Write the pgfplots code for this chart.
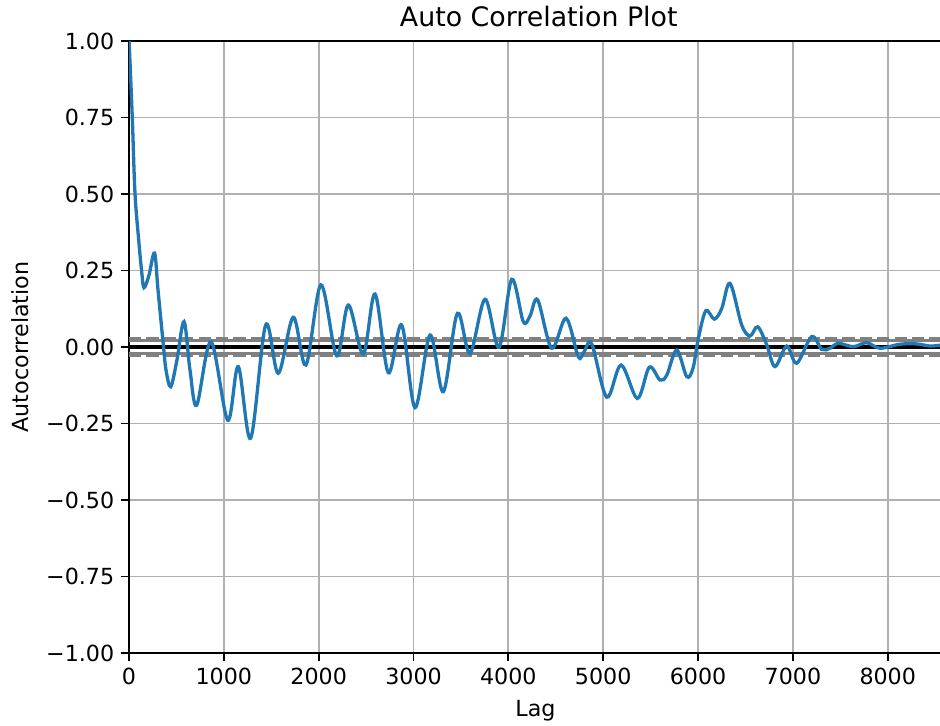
\documentclass[border=0pt]{standalone}
\usepackage{fontspec}
\setmainfont{DejaVu Sans}
\usepackage{pgfplots}
\pgfplotsset{compat=1.18}
\definecolor{mplblue}{HTML}{1F77B4}
\definecolor{mplgrid}{HTML}{B0B0B0}
\definecolor{mplgrey}{HTML}{808080}

\begin{document}
\begin{tikzpicture}
\begin{axis}[
  scale only axis, width=406.5pt, height=306pt,
  xmin=0, xmax=8572, ymin=-1, ymax=1,
  axis line style={line width=0.88pt},
  tick pos=left, tick align=outside, major tick length=3.85pt,
  every tick/.style={black, line width=0.88pt},
  xtick={0,1000,2000,3000,4000,5000,6000,7000,8000},
  xticklabels={0,1000,2000,3000,4000,5000,6000,7000,8000},
  ytick={-1,-0.75,-0.5,-0.25,0,0.25,0.5,0.75,1},
  yticklabels={−1.00,−0.75,−0.50,−0.25,0.00,0.25,0.50,0.75,1.00},
  ticklabel style={font=\fontsize{11.1}{13}\selectfont},
  grid=major, major grid style={mplgrid, line width=0.88pt},
  title={Auto Correlation Plot},
  every axis title/.style={at={(0.504,1)}, anchor=base, yshift=7pt, font=\fontsize{13.4}{16}\selectfont},
  xlabel={Lag}, ylabel={Autocorrelation},
  label style={font=\fontsize{11.1}{13}\selectfont},
  xlabel style={at={(axis description cs:0.5,-0.0945)}, anchor=center},
  ylabel style={at={(axis description cs:-0.1341,0.5)}, anchor=center},
]
% confidence bands (99% dashed, 95% solid) and the zero line
\addplot[mplgrey, line width=1.65pt, dash pattern=on 6.1pt off 2.6pt] coordinates {(0,0.0278) (8572,0.0278)};
\addplot[mplgrey, line width=1.65pt] coordinates {(0,0.0212) (8572,0.0212)};
\addplot[black, line width=1.65pt] coordinates {(0,0) (8572,0)};
\addplot[mplgrey, line width=1.65pt] coordinates {(0,-0.0212) (8572,-0.0212)};
\addplot[mplgrey, line width=1.65pt, dash pattern=on 6.1pt off 2.6pt] coordinates {(0,-0.0278) (8572,-0.0278)};
% autocorrelation by lag
\addplot[mplblue, line width=1.65pt, smooth, tension=0.55] coordinates {
(1,1.000) (35,0.748) (63,0.503) (105,0.340) (132,0.252) (158,0.194)
(211,0.235) (269,0.307) (306,0.186) (362,0.007) (390,-0.075) (440,-0.130)
(506,-0.042) (580,0.083) (643,-0.075) (714,-0.190) (865,0.017) (1041,-0.239)
(1152,-0.064) (1283,-0.298) (1441,0.072) (1574,-0.086) (1732,0.097) (1866,-0.059)
(2024,0.203) (2190,-0.029) (2313,0.137) (2470,-0.023) (2594,0.173) (2734,-0.084)
(2875,0.072) (3016,-0.198) (3174,0.039) (3314,-0.146) (3462,0.110) (3595,-0.021)
(3754,0.156) (3901,-0.001) (4035,0.221) (4157,0.083) (4228,0.101) (4309,0.154)
(4457,-0.004) (4608,0.094) (4737,-0.032) (4797,-0.016) (4879,0.010) (5037,-0.164)
(5188,-0.059) (5360,-0.168) (5486,-0.066) (5599,-0.108) (5670,-0.092) (5775,-0.010)
(5881,-0.097) (5947,-0.069) (6000,0.023) (6081,0.118) (6172,0.091) (6250,0.126)
(6337,0.208) (6460,0.072) (6548,0.036) (6629,0.066) (6724,0.007) (6811,-0.064)
(6935,0.003) (7040,-0.053) (7198,0.034) (7304,-0.008) (7391,-0.004) (7479,0.012)
(7637,0.001) (7778,0.014) (7918,-0.004) (8129,0.009) (8305,0.010) (8446,0.003)
(8551,0.006)
};
\end{axis}
\pgfresetboundingbox
\path[use as bounding box] (current axis.south west) ++(-64.5pt,-36.5pt) rectangle ++(470pt,363pt);
\end{tikzpicture}
\end{document}
